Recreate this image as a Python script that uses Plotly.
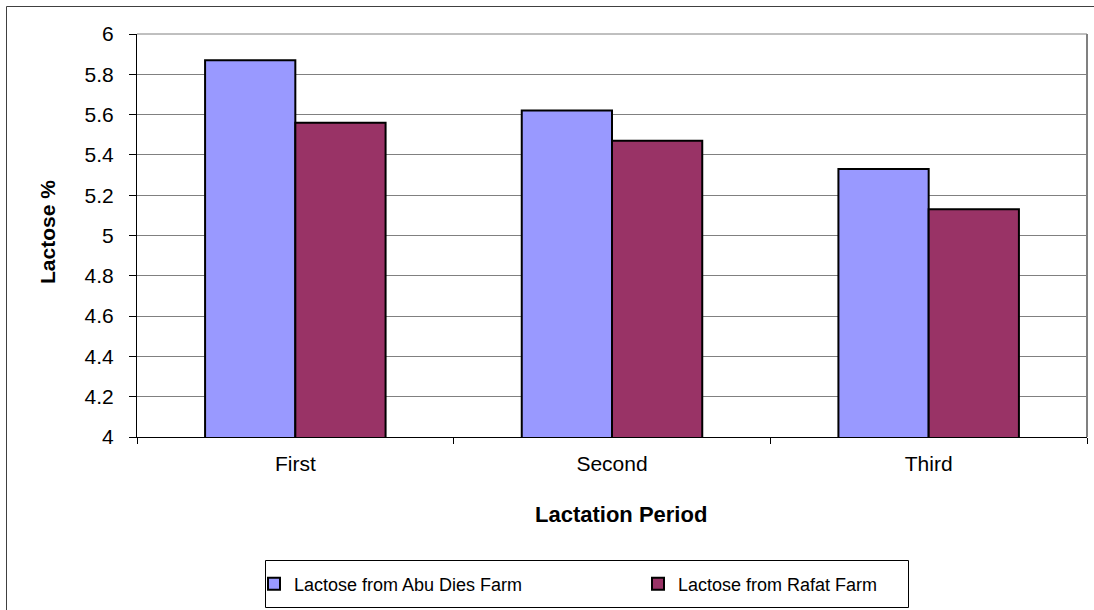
import plotly.graph_objects as go

# Lactose content by lactation period for two farms
periods = ["First", "Second", "Third"]
abu_dies = [5.87, 5.62, 5.33]
rafat = [5.56, 5.47, 5.13]
y_ticks = [4, 4.2, 4.4, 4.6, 4.8, 5, 5.2, 5.4, 5.6, 5.8, 6]

W, H = 1094, 610
L, R, T, B = 137, 1087, 34, 437
font_family = "Liberation Sans, Arial, sans-serif"


def px_x(p):
    return (p - L) / (R - L)


def px_y(p):
    return (B - p) / (B - T)


fig = go.Figure()
fig.add_trace(go.Bar(
    x=periods, y=abu_dies, name="Lactose from Abu Dies Farm",
    marker=dict(color="#9999FF", line=dict(color="#000000", width=2)),
))
fig.add_trace(go.Bar(
    x=periods, y=rafat, name="Lactose from Rafat Farm",
    marker=dict(color="#993366", line=dict(color="#000000", width=2)),
))

fig.update_layout(
    width=W, height=H,
    margin=dict(l=L, r=W - R, t=T, b=H - B),
    paper_bgcolor="white", plot_bgcolor="white",
    font=dict(family=font_family, size=21, color="#000000"),
    barmode="group", bargap=0.43, bargroupgap=0,
    showlegend=True,
    legend=dict(
        orientation="h", x=px_x(254), xanchor="left",
        y=px_y(584), yanchor="middle",
        borderwidth=0, bgcolor="rgba(0,0,0,0)",
        font=dict(family=font_family, size=18),
        entrywidth=339, itemwidth=30,
        traceorder="normal",
    ),
    xaxis=dict(
        type="category", tickson="boundaries", ticks="outside", ticklen=6,
        tickcolor="#000000", showline=True, linecolor="#000000", linewidth=1,
        showgrid=False, tickfont=dict(size=21), ticklabelstandoff=8,
    ),
    yaxis=dict(
        range=[4, 6], tickvals=y_ticks, ticktext=[f"{v:g}" for v in y_ticks],
        ticks="outside", ticklen=7, tickcolor="#000000",
        showline=True, linecolor="#000000", linewidth=1,
        showgrid=True, gridcolor="#808080", gridwidth=1,
        tickfont=dict(size=21), ticklabelstandoff=11, zeroline=False,
    ),
    annotations=[
        dict(text="<b>Lactation Period</b>", x=px_x(621), y=px_y(514),
             xref="paper", yref="paper", xanchor="center", yanchor="middle",
             showarrow=False, font=dict(size=22, family=font_family)),
        dict(text="<b>Lactose %</b>", x=px_x(47), y=px_y(232),
             xref="paper", yref="paper", xanchor="center", yanchor="middle",
             showarrow=False, textangle=-90,
             font=dict(size=21, family=font_family)),
    ],
    shapes=[
        # plot-area frame on the top and right
        dict(type="line", xref="paper", yref="paper", x0=0, x1=1, y0=1, y1=1,
             line=dict(color="#808080", width=1), layer="above"),
        dict(type="line", xref="paper", yref="paper", x0=1, x1=1, y0=0, y1=1,
             line=dict(color="#808080", width=2), layer="above"),
        # outer chart border
        dict(type="rect", xref="paper", yref="paper",
             x0=px_x(6.5), x1=px_x(1200), y0=px_y(6.5), y1=px_y(700),
             line=dict(color="#404040", width=1), layer="below"),
        # legend frame
        dict(type="rect", xref="paper", yref="paper",
             x0=px_x(265.5), x1=px_x(908.5), y0=px_y(560.5), y1=px_y(607.5),
             line=dict(color="#000000", width=1), layer="below"),
    ],
)

fig.write_html("out.html")
